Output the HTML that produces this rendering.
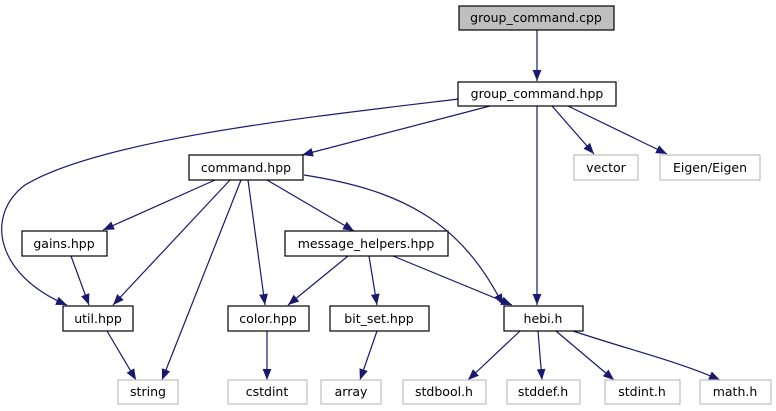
<!DOCTYPE html><html><head><style>body{margin:0;background:#fff}svg{display:block}text{font-family:"DejaVu Sans","Liberation Sans",sans-serif;font-size:12.5px;text-anchor:middle}</style></head><body>
<svg width="776" height="411" viewBox="0 0 776 411">
<defs><marker id="a" viewBox="0 0 10 10" refX="10" refY="5" markerWidth="11" markerHeight="11" markerUnits="userSpaceOnUse" orient="auto"><path d="M0,1 L10,5 L0,9z" fill="#191970"/></marker></defs>
<g fill="none" stroke="#191970" stroke-width="1.2" marker-end="url(#a)">
<path d="M537,30 L537,81"/>
<path d="M490,106 L302,155"/>
<path d="M459,99 C300,118 100,140 25,185 C-15,215 -5,275 67,305"/>
<path d="M552,106 L594,154"/>
<path d="M568,106 L667,154"/>
<path d="M537,106 L537,305"/>
<path d="M215,180 L103,230"/>
<path d="M230,180 L113,305"/>
<path d="M241,180 L162,380"/>
<path d="M248,180 L265,305"/>
<path d="M267,180 L354,231"/>
<path d="M304,175 C400,190 460,220 503,305"/>
<path d="M71,256 L89,305"/>
<path d="M348,256 L288,305"/>
<path d="M369,256 L377,305"/>
<path d="M393,256 L512,305"/>
<path d="M107,331 L136,380"/>
<path d="M267,331 L267,380"/>
<path d="M377,331 L360,380"/>
<path d="M520,331 L468,380"/>
<path d="M538,331 L542,380"/>
<path d="M556,331 L614,380"/>
<path d="M573,331 C630,350 680,362 720,380"/>
</g>
<g stroke-width="1.2">
<rect x="459" y="6" width="155" height="24" fill="#bfbfbf" stroke="#000"/>
<rect x="458" y="82" width="158" height="24" fill="#fff" stroke="#000"/>
<rect x="189" y="155" width="114" height="25" fill="#fff" stroke="#000"/>
<rect x="574" y="155" width="64" height="25" fill="#fff" stroke="#bfbfbf"/>
<rect x="660" y="155" width="100" height="25" fill="#fff" stroke="#bfbfbf"/>
<rect x="22" y="231" width="85" height="25" fill="#fff" stroke="#000"/>
<rect x="285" y="231" width="163" height="25" fill="#fff" stroke="#000"/>
<rect x="63" y="306" width="70" height="25" fill="#fff" stroke="#000"/>
<rect x="228" y="306" width="81" height="25" fill="#fff" stroke="#000"/>
<rect x="330" y="306" width="99" height="25" fill="#fff" stroke="#000"/>
<rect x="504" y="306" width="79" height="25" fill="#fff" stroke="#000"/>
<rect x="118" y="380" width="60" height="24" fill="#fff" stroke="#bfbfbf"/>
<rect x="228" y="380" width="79" height="24" fill="#fff" stroke="#bfbfbf"/>
<rect x="321" y="380" width="60" height="24" fill="#fff" stroke="#bfbfbf"/>
<rect x="403" y="380" width="83" height="24" fill="#fff" stroke="#bfbfbf"/>
<rect x="507" y="380" width="73" height="24" fill="#fff" stroke="#bfbfbf"/>
<rect x="605" y="380" width="75" height="24" fill="#fff" stroke="#bfbfbf"/>
<rect x="700" y="380" width="71" height="24" fill="#fff" stroke="#bfbfbf"/>
</g>
<g fill="#000">
<text x="536" y="22">group_command.cpp</text>
<text x="537" y="98">group_command.hpp</text>
<text x="246" y="172">command.hpp</text>
<text x="606" y="172">vector</text>
<text x="710" y="172">Eigen/Eigen</text>
<text x="64" y="248">gains.hpp</text>
<text x="366" y="248">message_helpers.hpp</text>
<text x="98" y="323">util.hpp</text>
<text x="268" y="323">color.hpp</text>
<text x="379" y="323">bit_set.hpp</text>
<text x="543" y="323">hebi.h</text>
<text x="148" y="396">string</text>
<text x="267" y="396">cstdint</text>
<text x="351" y="396">array</text>
<text x="444" y="396">stdbool.h</text>
<text x="543" y="396">stddef.h</text>
<text x="642" y="396">stdint.h</text>
<text x="735" y="396">math.h</text>
</g>
</svg></body></html>
